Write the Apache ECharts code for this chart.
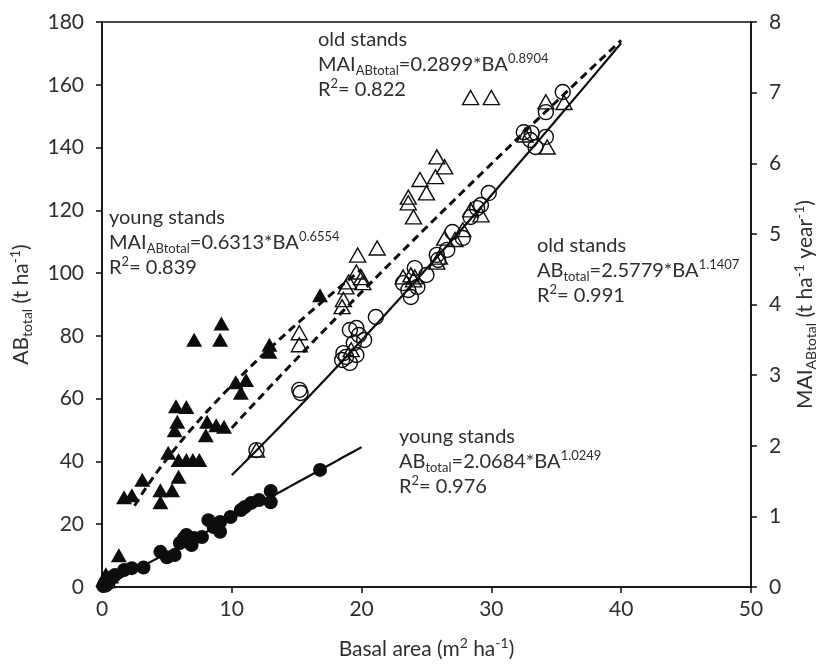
<!DOCTYPE html>
<html><head><meta charset="utf-8">
<script src="https://cdn.jsdelivr.net/npm/echarts@6/dist/echarts.min.js"></script>
<style>html,body{margin:0;padding:0;background:#fff}#c{width:826px;height:666px}</style>
</head><body><div id="c"></div>
<script>
// ---- data ----
const xTicks = [0, 10, 20, 30, 40, 50];
const leftTicks = [0, 20, 40, 60, 80, 100, 120, 140, 160, 180];
const rightTicks = [0, 1, 2, 3, 4, 5, 6, 7, 8];

// young stands, AB_total (filled circles, left axis)
const youngAB_x = [0.1,0.2,0.3,0.4,0.5,0.6,0.8,1.0,1.7,2.3,3.2,4.5,5.0,5.6,6.0,6.3,6.5,6.9,7.1,7.7,8.2,8.6,9.1,9.1,9.9,10.7,11.0,11.5,12.1,13.0,13.0,16.8];
const youngAB_y = [0.3,1.0,0.5,2.0,1.2,2.8,3.2,3.8,5.4,6.0,6.2,11.2,9.5,10.2,14.0,15.5,16.6,13.4,15.6,15.9,21.3,19.1,20.7,17.6,22.3,24.5,25.5,26.8,27.7,30.6,27.0,37.3];

// old stands, AB_total (open circles, left axis)
const oldAB_x = [11.9,15.2,15.3,18.5,18.6,18.8,19.1,19.1,19.4,19.6,19.6,19.8,20.2,21.1,23.2,23.6,23.8,24.1,24.3,25.0,25.8,25.9,26.6,27.0,27.8,28.4,28.9,29.2,29.8,32.5,33.0,33.1,33.4,34.2,34.2,35.5];
const oldAB_y = [43.6,62.8,61.8,72.3,74.5,73.3,81.9,71.4,77.7,82.5,73.9,80.3,78.7,86.0,96.8,94.6,92.4,101.6,95.6,99.4,105.8,104.2,107.4,113.1,111.2,117.9,120.7,121.7,125.5,144.9,142.4,144.6,140.2,143.4,151.3,157.7];

// young stands, MAI_ABtotal (filled triangles, right axis)
const youngMAI_x = [0.1,0.3,0.5,0.7,1.3,1.7,2.3,3.1,4.5,4.5,5.1,5.4,5.6,5.7,5.8,5.9,5.9,6.5,6.5,7.0,7.1,7.5,8.0,8.1,8.8,9.1,9.2,9.4,10.3,10.7,11.1,12.9,12.9,16.8];
const youngMAI_y = [0.10,0.18,0.08,0.15,0.45,1.27,1.30,1.52,1.37,1.20,1.90,1.37,2.22,2.56,2.34,1.80,1.56,2.55,1.80,1.80,3.50,1.80,2.15,2.34,2.29,3.50,3.73,2.27,2.90,2.75,2.93,3.43,3.33,4.13];

// old stands, MAI_ABtotal (open triangles, right axis)
const oldMAI_x = [11.9,15.2,15.2,18.5,18.6,18.8,19.0,19.2,19.6,19.7,20.0,20.1,21.2,23.2,23.6,23.6,23.8,24.0,24.0,24.1,24.5,25.0,25.7,25.8,25.8,26.0,26.4,26.4,27.2,27.8,28.4,28.4,29.2,30.0,32.6,34.2,34.3,35.6];
const oldMAI_y = [1.94,3.60,3.43,3.97,4.07,4.25,4.32,3.36,4.46,4.70,4.38,4.31,4.80,4.39,5.52,5.44,4.42,5.24,4.35,4.39,5.77,5.58,5.81,6.09,4.60,4.67,5.95,4.94,4.92,5.06,5.34,6.93,5.27,6.93,6.40,6.87,6.23,6.86];

// fitted power models shown on the chart: y = a * BA^b over [from, to]
const fitYoungAB  = {a: 2.0684, b: 1.0249, from: 0,   to: 20};
const fitOldAB    = {a: 2.5779, b: 1.1407, from: 10,  to: 40};
const fitYoungMAI = {a: 0.6313, b: 0.6554, from: 2.5, to: 20};
const fitOldMAI   = {a: 0.2899, b: 0.8904, from: 10,  to: 40};

// ---- build ----
const zip = (xs, ys) => xs.map((x, i) => [x, ys[i]]);
function curve(f) {
  const pts = [];
  const n = 40;
  for (let i = 0; i <= n; i++) {
    const x = f.from + (f.to - f.from) * i / n;
    pts.push([x, x === 0 ? 0 : f.a * Math.pow(x, f.b)]);
  }
  return pts;
}

const INK = '#0d0d0d';
const TXT = '#2e2e2e';
const FONT = 'Lato, "Open Sans", sans-serif';

const rich = {
  sub: {fontSize: 13, lineHeight: 12, verticalAlign: 'bottom', fontFamily: FONT, color: TXT},
  sup: {fontSize: 13, lineHeight: 12, verticalAlign: 'top', fontFamily: FONT, color: TXT},
  n: {fontSize: 20, lineHeight: 25, fontFamily: FONT, color: TXT}
};
const richName = {
  sub: {fontSize: 14, lineHeight: 12, verticalAlign: 'bottom', fontFamily: FONT, color: TXT},
  sup: {fontSize: 14, lineHeight: 12, verticalAlign: 'top', fontFamily: FONT, color: TXT},
  n: {fontSize: 21, lineHeight: 26, fontFamily: FONT, color: TXT}
};

function note(left, top, lines) {
  return {
    type: 'text', left: left, top: top, z: 100,
    style: {
      text: lines.join('\n'),
      rich: rich,
      fontSize: 20, lineHeight: 25, fontFamily: FONT, fill: TXT
    }
  };
}

const axisCommon = {
  axisLine: {show: true, onZero: false, lineStyle: {color: INK, width: 1.5}},
  axisTick: {show: true, inside: false, length: 6, lineStyle: {color: INK, width: 1.5}},
  splitLine: {show: false},
  axisLabel: {fontSize: 21, color: TXT, fontFamily: FONT}
};

const option = {
  animation: false,
  backgroundColor: '#fff',
  grid: {left: 101, right: 64, top: 22, bottom: 79, show: true, borderColor: INK, borderWidth: 1.5, backgroundColor: 'transparent'},
  xAxis: Object.assign({}, axisCommon, {
    type: 'value', min: xTicks[0], max: xTicks[xTicks.length - 1], interval: xTicks[1] - xTicks[0],
    axisLabel: Object.assign({}, axisCommon.axisLabel, {margin: 12}),
    name: '{n|Basal area (m}{sup|2}{n| ha}{sup|-1}{n|)}',
    nameLocation: 'middle', nameGap: 49,
    nameTextStyle: {fontSize: 21, color: TXT, fontFamily: FONT, rich: richName}
  }),
  yAxis: [
    Object.assign({}, axisCommon, {
      type: 'value', position: 'left', min: leftTicks[0], max: leftTicks[leftTicks.length - 1], interval: leftTicks[1] - leftTicks[0],
      axisLabel: Object.assign({}, axisCommon.axisLabel, {margin: 18}),
      name: '{n|AB}{sub|total}{n| (t ha}{sup|-1}{n|)}',
      nameLocation: 'middle', nameGap: 68, nameRotate: 90,
      nameTextStyle: {fontSize: 21, color: TXT, fontFamily: FONT, rich: richName}
    }),
    Object.assign({}, axisCommon, {
      type: 'value', position: 'right', min: rightTicks[0], max: rightTicks[rightTicks.length - 1], interval: rightTicks[1] - rightTicks[0],
      axisLabel: Object.assign({}, axisCommon.axisLabel, {margin: 18}),
      name: '{n|MAI}{sub|ABtotal}{n| (t ha}{sup|-1}{n| year}{sup|-1}{n|)}',
      nameLocation: 'middle', nameGap: 38, nameRotate: 90,
      nameTextStyle: {fontSize: 21, color: TXT, fontFamily: FONT, rich: richName}
    })
  ],
  series: [
    {type: 'line', data: curve(fitYoungAB), showSymbol: false, symbol: 'none', lineStyle: {color: INK, width: 2.2}, z: 3, silent: true},
    {type: 'line', data: curve(fitOldAB), showSymbol: false, symbol: 'none', lineStyle: {color: INK, width: 2.2}, z: 3, silent: true},
    {type: 'line', yAxisIndex: 1, data: curve(fitYoungMAI), showSymbol: false, symbol: 'none', lineStyle: {color: INK, width: 3, type: [8, 5]}, z: 3, silent: true},
    {type: 'line', yAxisIndex: 1, data: curve(fitOldMAI), showSymbol: false, symbol: 'none', lineStyle: {color: INK, width: 3, type: [8, 5]}, z: 3, silent: true},
    {type: 'scatter', data: zip(youngAB_x, youngAB_y), symbol: 'circle', symbolSize: 14, itemStyle: {color: INK, opacity: 1}, z: 4},
    {type: 'scatter', data: zip(oldAB_x, oldAB_y), symbol: 'circle', symbolSize: 15, itemStyle: {color: 'rgba(255,255,255,0)', borderColor: INK, borderWidth: 1.4, opacity: 1}, z: 4},
    {type: 'scatter', yAxisIndex: 1, data: zip(youngMAI_x, youngMAI_y), symbol: 'triangle', symbolSize: [16, 14], itemStyle: {color: INK, opacity: 1}, z: 4},
    {type: 'scatter', yAxisIndex: 1, data: zip(oldMAI_x, oldMAI_y), symbol: 'triangle', symbolSize: [16, 14], itemStyle: {color: 'rgba(255,255,255,0)', borderColor: INK, borderWidth: 1.4, opacity: 1}, z: 4}
  ],
  graphic: [
    note(318, 27, ['{n|old stands}', '{n|MAI}{sub|ABtotal}{n|=0.2899*BA}{sup|0.8904}', '{n|R}{sup|2}{n|= 0.822}']),
    note(109, 205, ['{n|young stands}', '{n|MAI}{sub|ABtotal}{n|=0.6313*BA}{sup|0.6554}', '{n|R}{sup|2}{n|= 0.839}']),
    note(537, 233, ['{n|old stands}', '{n|AB}{sub|total}{n|=2.5779*BA}{sup|1.1407}', '{n|R}{sup|2}{n|= 0.991}']),
    note(399, 424, ['{n|young stands}', '{n|AB}{sub|total}{n|=2.0684*BA}{sup|1.0249}', '{n|R}{sup|2}{n|= 0.976}'])
  ]
};

const chart = echarts.init(document.getElementById('c'), null, {renderer: 'canvas'});
chart.setOption(option);
</script>
</body></html>
